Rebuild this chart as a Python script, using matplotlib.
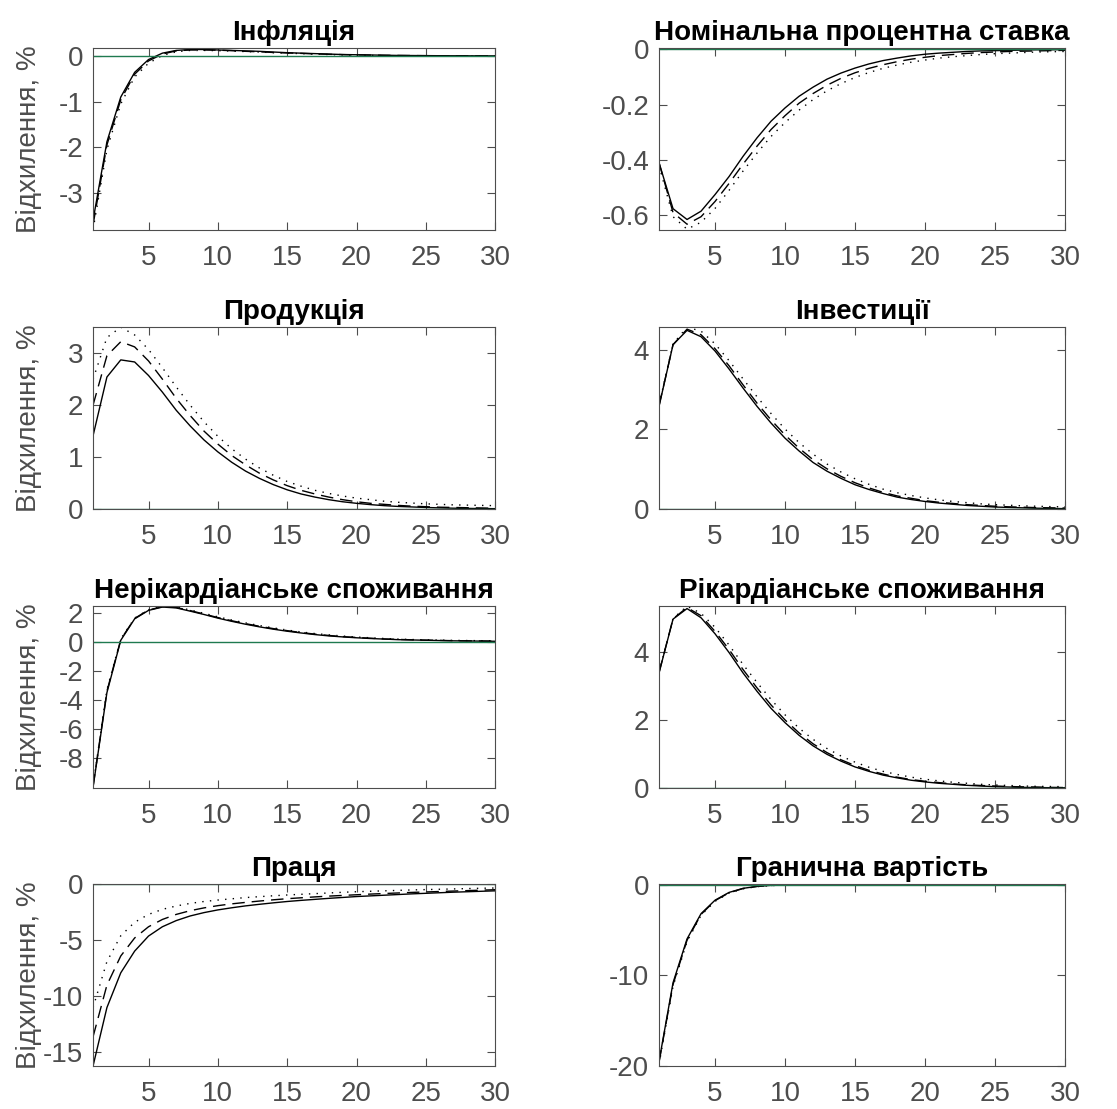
#!/usr/bin/env python3
"""Impulse responses, three model variants, 8 panels."""

import matplotlib
matplotlib.use('Agg')
import matplotlib.pyplot as plt

plt.rcParams['font.family'] = ['Liberation Sans', 'DejaVu Sans']
plt.rcParams['axes.unicode_minus'] = False

periods = list(range(1, 31))

titles = ['Інфляція', 'Номінальна процентна ставка', 'Продукція', 'Інвестиції',
          'Нерікардіанське споживання', 'Рікардіанське споживання', 'Праця',
          'Гранична вартість']
ylabel = 'Відхилення, %'

inflation_solid = [-3.60, -1.88, -0.90, -0.36, -0.08, 0.06, 0.12, 0.14, 0.14, 0.13, 0.12, 0.11, 0.10, 0.085, 0.07,
                   0.06, 0.05, 0.04, 0.03, 0.025, 0.02, 0.015, 0.01, 0.008, 0.006, 0.004, 0.003, 0.002, 0.001, 0.001]
inflation_dashed = [-3.70, -1.95, -0.96, -0.40, -0.11, 0.04, 0.11, 0.13, 0.13, 0.125, 0.115, 0.10, 0.09, 0.075, 0.065,
                    0.055, 0.045, 0.035, 0.028, 0.022, 0.017, 0.013, 0.01, 0.007, 0.005, 0.003, 0.002, 0.001, 0.0, 0.0]
inflation_dotted = [-3.80, -2.05, -1.05, -0.46, -0.16, 0.01, 0.09, 0.12, 0.12, 0.115, 0.105, 0.095, 0.085, 0.07, 0.06,
                    0.05, 0.04, 0.03, 0.022, 0.016, 0.01, 0.006, 0.003, 0.0, -0.002, -0.003, -0.004, -0.005, -0.005, -0.006]

rate_solid = [-0.41, -0.576, -0.615, -0.585, -0.525, -0.46, -0.387, -0.32, -0.26, -0.212, -0.17, -0.137, -0.108, -0.086,
              -0.068, -0.053, -0.041, -0.032, -0.024, -0.018, -0.014, -0.011, -0.008, -0.006, -0.005, -0.004, -0.003,
              -0.002, -0.002, -0.001]
rate_dashed = [-0.41, -0.59, -0.632, -0.605, -0.55, -0.485, -0.415, -0.35, -0.29, -0.24, -0.195, -0.16, -0.13, -0.105,
               -0.085, -0.069, -0.056, -0.045, -0.036, -0.029, -0.023, -0.019, -0.015, -0.012, -0.010, -0.008, -0.007,
               -0.006, -0.005, -0.004]
rate_dotted = [-0.42, -0.605, -0.65, -0.625, -0.575, -0.51, -0.44, -0.375, -0.315, -0.265, -0.22, -0.182, -0.15, -0.124,
               -0.102, -0.084, -0.069, -0.057, -0.047, -0.039, -0.032, -0.027, -0.023, -0.019, -0.016, -0.014, -0.012,
               -0.010, -0.009, -0.008]

output_solid = [1.41, 2.54, 2.87, 2.83, 2.57, 2.25, 1.90, 1.60, 1.33, 1.10, 0.90, 0.73, 0.59, 0.47, 0.37, 0.29, 0.23,
                0.18, 0.14, 0.11, 0.085, 0.065, 0.05, 0.04, 0.03, 0.022, 0.016, 0.012, 0.009, 0.007]
output_dashed = [2.00, 2.95, 3.22, 3.12, 2.85, 2.50, 2.13, 1.80, 1.50, 1.25, 1.03, 0.85, 0.69, 0.56, 0.45, 0.36, 0.29,
                 0.23, 0.18, 0.14, 0.11, 0.09, 0.07, 0.055, 0.045, 0.035, 0.03, 0.025, 0.02, 0.015]
output_dotted = [2.50, 3.30, 3.50, 3.35, 3.07, 2.72, 2.35, 2.00, 1.68, 1.40, 1.16, 0.96, 0.79, 0.65, 0.53, 0.44, 0.36,
                 0.30, 0.25, 0.21, 0.18, 0.15, 0.13, 0.115, 0.10, 0.09, 0.08, 0.075, 0.07, 0.065]

invest_solid = [2.58, 4.13, 4.49, 4.33, 3.97, 3.52, 3.04, 2.58, 2.16, 1.78, 1.46, 1.17, 0.95, 0.77, 0.61, 0.49, 0.39,
                0.30, 0.24, 0.19, 0.15, 0.12, 0.09, 0.07, 0.05, 0.04, 0.03, 0.02, 0.015, 0.01]
invest_dashed = [2.60, 4.13, 4.52, 4.38, 4.03, 3.60, 3.12, 2.66, 2.24, 1.86, 1.53, 1.24, 1.01, 0.82, 0.66, 0.53, 0.42,
                 0.33, 0.27, 0.21, 0.17, 0.14, 0.11, 0.09, 0.07, 0.055, 0.045, 0.035, 0.03, 0.025]
invest_dotted = [2.62, 4.15, 4.57, 4.47, 4.15, 3.73, 3.27, 2.82, 2.40, 2.01, 1.67, 1.38, 1.13, 0.93, 0.76, 0.62, 0.50,
                 0.41, 0.34, 0.28, 0.23, 0.19, 0.16, 0.13, 0.11, 0.095, 0.08, 0.07, 0.06, 0.055]

nonric_solid = [-10.0, -3.5, 0.1, 1.57, 2.15, 2.38, 2.32, 2.10, 1.87, 1.62, 1.40, 1.20, 1.02, 0.86, 0.72, 0.60, 0.49,
                0.40, 0.33, 0.27, 0.22, 0.18, 0.14, 0.12, 0.10, 0.08, 0.06, 0.05, 0.04, 0.03]
nonric_dashed = [-9.95, -3.4, 0.15, 1.60, 2.18, 2.40, 2.35, 2.14, 1.90, 1.66, 1.44, 1.24, 1.06, 0.90, 0.76, 0.63, 0.52,
                 0.43, 0.35, 0.29, 0.24, 0.19, 0.16, 0.13, 0.11, 0.09, 0.07, 0.06, 0.05, 0.04]
nonric_dotted = [-9.9, -3.3, 0.2, 1.62, 2.20, 2.43, 2.39, 2.18, 1.95, 1.71, 1.49, 1.29, 1.11, 0.95, 0.80, 0.67, 0.56,
                 0.47, 0.39, 0.32, 0.27, 0.22, 0.18, 0.15, 0.13, 0.11, 0.09, 0.08, 0.07, 0.06]

ric_solid = [3.38, 4.96, 5.27, 5.00, 4.53, 3.98, 3.38, 2.84, 2.34, 1.92, 1.55, 1.24, 0.99, 0.79, 0.62, 0.49, 0.38, 0.30,
             0.23, 0.18, 0.14, 0.11, 0.08, 0.06, 0.04, 0.03, 0.02, 0.015, 0.01, 0.008]
ric_dashed = [3.39, 4.97, 5.30, 5.06, 4.60, 4.07, 3.48, 2.94, 2.44, 2.00, 1.62, 1.30, 1.04, 0.83, 0.66, 0.52, 0.41, 0.32,
              0.25, 0.20, 0.16, 0.12, 0.095, 0.075, 0.06, 0.045, 0.035, 0.03, 0.02, 0.015]
ric_dotted = [3.40, 4.98, 5.34, 5.13, 4.72, 4.20, 3.63, 3.10, 2.60, 2.15, 1.76, 1.43, 1.16, 0.94, 0.76, 0.61, 0.49, 0.40,
              0.32, 0.26, 0.21, 0.17, 0.14, 0.11, 0.09, 0.075, 0.06, 0.05, 0.045, 0.04]

labour_solid = [-16.2, -11.0, -7.9, -5.97, -4.63, -3.80, -3.25, -2.84, -2.54, -2.30, -2.11, -1.94, -1.80, -1.67, -1.55,
                -1.45, -1.36, -1.27, -1.19, -1.11, -1.05, -0.99, -0.93, -0.87, -0.82, -0.77, -0.72, -0.68, -0.64, -0.60]
labour_dashed = [-13.6, -9.0, -6.4, -4.8, -3.8, -3.15, -2.70, -2.37, -2.12, -1.92, -1.76, -1.63, -1.51, -1.40, -1.30,
                 -1.22, -1.14, -1.07, -1.01, -0.95, -0.89, -0.84, -0.79, -0.74, -0.70, -0.66, -0.62, -0.58, -0.54, -0.50]
labour_dotted = [-11.0, -6.9, -4.6, -3.4, -2.7, -2.25, -1.95, -1.72, -1.55, -1.42, -1.31, -1.20, -1.12, -1.04, -0.97,
                 -0.91, -0.85, -0.79, -0.73, -0.68, -0.64, -0.60, -0.56, -0.52, -0.49, -0.46, -0.43, -0.40, -0.37, -0.35]

mc_solid = [-19.5, -10.8, -5.96, -3.17, -1.68, -0.82, -0.37, -0.15, -0.04, 0.0, 0.03, 0.04, 0.04, 0.04, 0.03, 0.03,
            0.02, 0.02, 0.015, 0.01, 0.01, 0.008, 0.006, 0.005, 0.004, 0.003, 0.002, 0.002, 0.001, 0.001]
mc_dashed = [-19.6, -11.0, -6.1, -3.25, -1.73, -0.86, -0.39, -0.16, -0.05, 0.0, 0.03, 0.04, 0.04, 0.04, 0.03, 0.03,
             0.02, 0.02, 0.015, 0.01, 0.01, 0.008, 0.006, 0.005, 0.004, 0.003, 0.002, 0.002, 0.001, 0.001]
mc_dotted = [-19.8, -11.2, -6.25, -3.35, -1.80, -0.90, -0.42, -0.18, -0.06, -0.01, 0.02, 0.03, 0.04, 0.04, 0.03, 0.03,
             0.02, 0.02, 0.015, 0.01, 0.01, 0.008, 0.006, 0.005, 0.004, 0.003, 0.002, 0.002, 0.001, 0.001]

solid = [inflation_solid, rate_solid, output_solid, invest_solid, nonric_solid, ric_solid, labour_solid, mc_solid]
dashed = [inflation_dashed, rate_dashed, output_dashed, invest_dashed, nonric_dashed, ric_dashed, labour_dashed, mc_dashed]
dotted = [inflation_dotted, rate_dotted, output_dotted, invest_dotted, nonric_dotted, ric_dotted, labour_dotted, mc_dotted]

ylims = [(-3.81, 0.17), (-0.653, 0.004), (0, 3.5), (0, 4.57), (-10.05, 2.44), (0, 5.34), (-16.2, 0), (-20, 0.1)]
yticks = [[-3, -2, -1, 0], [-0.6, -0.4, -0.2, 0], [0, 1, 2, 3], [0, 2, 4],
          [-8, -6, -4, -2, 0, 2], [0, 2, 4], [-15, -10, -5, 0], [-20, -10, 0]]

AXIS_COLOR = '#4d4d4d'
ZERO_COLOR = '#1f7a50'

fig = plt.figure(figsize=(11.17, 11.09), dpi=100)

col_left = [0.0833, 0.590]
col_width = [0.360, 0.3635]
row_bottom = [0.7926, 0.541, 0.2894, 0.0388]
row_height = 0.164

for i in range(8):
    r, c = divmod(i, 2)
    ax = fig.add_axes([col_left[c], row_bottom[r], col_width[c], row_height])
    ax.plot(periods, solid[i], color='black', lw=1.0, linestyle='-')
    ax.plot(periods, dashed[i], color='black', lw=1.0, linestyle=(0, (9, 5)))
    ax.plot(periods, dotted[i], color='black', lw=1.0, linestyle=(0, (1, 4.5)))
    ax.axhline(0, color=ZERO_COLOR, lw=1.0)

    ax.set_xlim(1, 30)
    ax.set_ylim(*ylims[i])
    ax.set_xticks([5, 10, 15, 20, 25, 30])
    ax.set_yticks(yticks[i])
    ax.set_yticklabels([f'{t:g}' for t in yticks[i]])
    ax.tick_params(direction='in', length=6, width=0.8, top=True, right=True,
                   labelsize=20, colors=AXIS_COLOR)
    ax.tick_params(axis='x', pad=11)
    ax.tick_params(axis='y', pad=7)
    for sp in ax.spines.values():
        sp.set_color(AXIS_COLOR)
        sp.set_linewidth(0.8)
    ax.set_title(titles[i], fontsize=20, fontweight='bold', color='black', pad=6)
    if c == 0:
        ax.set_ylabel(ylabel, fontsize=20, color=AXIS_COLOR)
        ax.yaxis.set_label_coords(-0.127, 0.5)

plt.savefig('out.png', dpi=100)
